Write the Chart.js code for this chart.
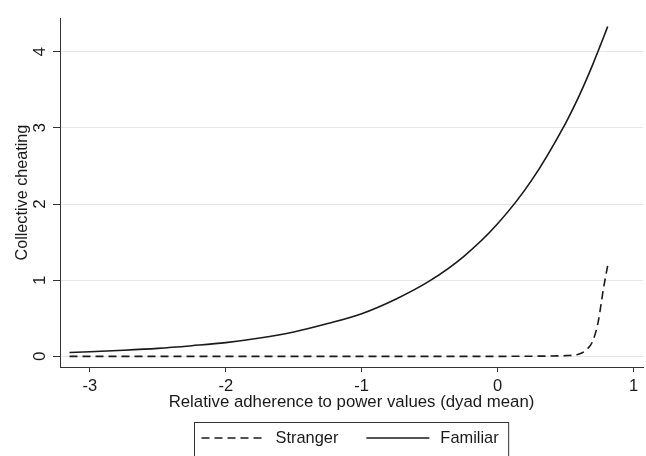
<!DOCTYPE html>
<html>
<head>
<meta charset="utf-8">
<script src="https://cdn.jsdelivr.net/npm/chart.js@4.4.1/dist/chart.umd.min.js"></script>
<style>
  html, body { margin: 0; padding: 0; background: #fff; }
  #wrap { width: 646px; height: 456px; }
</style>
</head>
<body>
<div id="wrap"><canvas id="myChart" width="646" height="456"></canvas></div>
<script>
// values
const xs = [-3.15, -3, -2.75, -2.5, -2.25, -2, -1.75, -1.5, -1.25, -1, -0.75, -0.5, -0.25, 0, 0.25, 0.5, 0.6, 0.65, 0.7, 0.74, 0.78, 0.81];
const familiar = [0.05, 0.06, 0.08, 0.105, 0.14, 0.18, 0.24, 0.32, 0.43, 0.56, 0.75, 0.99, 1.31, 1.74, 2.31, 3.06, 3.42, 3.62, 3.83, 4.01, 4.19, 4.33];
const stranger = [0, 0, 0, 0, 0, 0, 0, 0, 0, 0, 0, 0, 0, 0, 0.002, 0.01, 0.03, 0.08, 0.2, 0.45, 0.9, 1.19];
const xTicks = [-3, -2, -1, 0, 1];
const yTicks = [0, 1, 2, 3, 4];

const FONT = 'Liberation Sans, Arial, Helvetica, sans-serif';
const INK = '#1a1a1a';

// boxed legend drawn below the axis, like the Stata one
const boxLegend = {
    id: 'boxLegend',
    afterDraw(chart) {
        const c = chart.ctx;
        const area = chart.chartArea;
        c.save();
        c.font = '16.4px ' + FONT;
        const lineLen = 63, gapText = 11, gapItem = 28, padL = 7, padR = 10;
        const items = chart.data.datasets;
        let w = padL + padR;
        items.forEach((d, i) => {
            w += lineLen + gapText + c.measureText(d.label).width;
            if (i > 0) w += gapItem;
        });
        const left = Math.round((area.left + area.right) / 2 - w / 2) + 0.5;
        const top = 422.5;
        c.strokeStyle = '#333';
        c.lineWidth = 1;
        c.strokeRect(left, top, w, 50);
        let x = left + padL;
        const y = 438;
        items.forEach((d, i) => {
            if (i > 0) x += gapItem;
            c.beginPath();
            c.setLineDash(d.borderDash || []);
            c.strokeStyle = d.borderColor;
            c.lineWidth = d.borderWidth;
            c.moveTo(x, y);
            c.lineTo(x + lineLen, y);
            c.stroke();
            c.setLineDash([]);
            x += lineLen + gapText;
            c.fillStyle = INK;
            c.textBaseline = 'middle';
            c.textAlign = 'left';
            c.fillText(d.label, x, y);
            x += c.measureText(d.label).width;
        });
        c.restore();
    }
};

const ctx = document.getElementById('myChart');
new Chart(ctx, {
    type: 'line',
    data: {
        datasets: [{
            label: 'Stranger',
            data: xs.map((x, i) => ({ x: x, y: stranger[i] })),
            borderColor: INK,
            borderWidth: 1.6,
            borderDash: [8, 5],
            pointRadius: 0,
            fill: false
        },
        {
            label: 'Familiar',
            data: xs.map((x, i) => ({ x: x, y: familiar[i] })),
            borderColor: INK,
            borderWidth: 1.6,
            pointRadius: 0,
            fill: false
        }]
    },
    options: {
        responsive: false,
        animation: false,
        layout: {
            padding: { left: 13, top: 15, right: 3, bottom: 44 }
        },
        plugins: {
            legend: { display: false },
            tooltip: { enabled: false }
        },
        elements: {
            line: {
                cubicInterpolationMode: 'monotone'
            }
        },
        scales: {
            x: {
                type: 'linear',
                min: -3.22,
                max: 1.07,
                afterBuildTicks: (scale) => { scale.ticks = xTicks.map(v => ({ value: v })); },
                afterFit: (scale) => { scale.height = 45; },
                grid: {
                    drawOnChartArea: false,
                    tickLength: 5,
                    tickColor: '#333'
                },
                border: { color: '#333', width: 1 },
                ticks: {
                    color: INK,
                    padding: 5,
                    maxRotation: 0,
                    font: { family: FONT, size: 16.5 }
                },
                title: {
                    display: true,
                    text: 'Relative adherence to power values (dyad mean)',
                    color: INK,
                    padding: 0,
                    font: { family: FONT, size: 16.8 }
                }
            },
            y: {
                min: -0.14,
                max: 4.44,
                afterBuildTicks: (scale) => { scale.ticks = yTicks.map(v => ({ value: v })); },
                afterFit: (scale) => { scale.width = 47; },
                grid: {
                    color: '#e6e6e6',
                    lineWidth: 1,
                    tickLength: 7,
                    tickColor: '#333'
                },
                border: { color: '#333', width: 1 },
                ticks: {
                    color: INK,
                    padding: 8,
                    minRotation: 90,
                    maxRotation: 90,
                    crossAlign: 'center',
                    font: { family: FONT, size: 17 }
                },
                title: {
                    display: true,
                    text: 'Collective cheating',
                    color: INK,
                    padding: 0,
                    font: { family: FONT, size: 16.2 }
                }
            }
        }
    },
    plugins: [boxLegend]
});
</script>
</body>
</html>
